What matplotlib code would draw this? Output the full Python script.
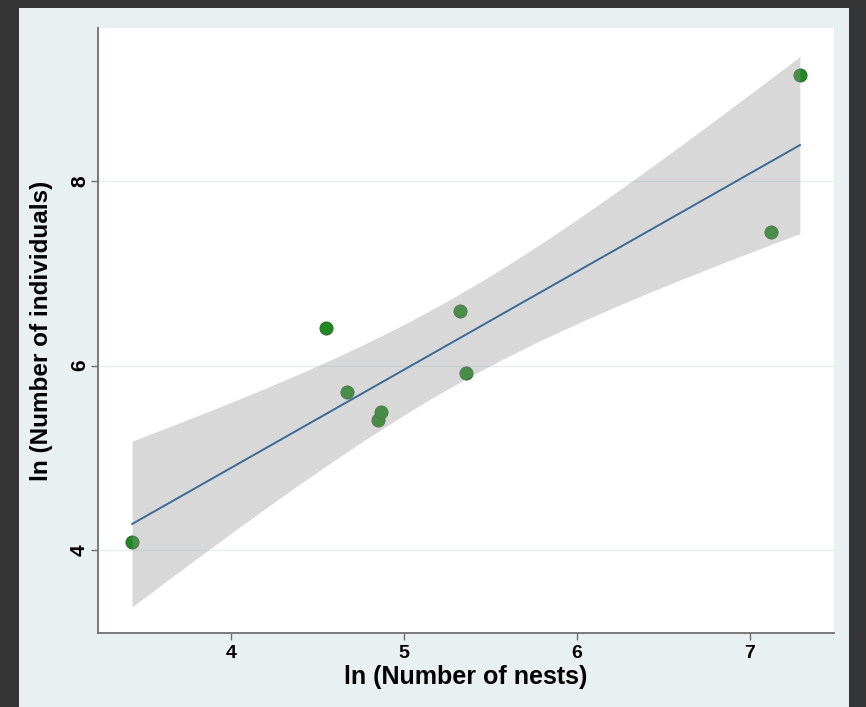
import matplotlib

matplotlib.use("Agg")
import matplotlib.pyplot as plt
import numpy as np
from matplotlib.patches import Rectangle

# ln(number of nests), ln(number of individuals) per site
ln_nests = np.array([3.428, 4.549, 4.671, 4.850, 4.867, 5.324, 5.358, 7.121, 7.289])
ln_individuals = np.array([4.087, 6.405, 5.712, 5.408, 5.495, 6.589, 5.918, 7.445, 9.146])

x_ticks = [4, 5, 6, 7]
y_ticks = [4, 6, 8]

T_CRIT = 2.365  # t(0.975, df=7)


def fit_with_ci(x, y, grid):
    slope, intercept = np.polyfit(x, y, 1)
    resid = y - (slope * x + intercept)
    n = len(x)
    s = np.sqrt(np.sum(resid ** 2) / (n - 2))
    sxx = np.sum((x - x.mean()) ** 2)
    fit = slope * grid + intercept
    half = T_CRIT * s * np.sqrt(1.0 / n + (grid - x.mean()) ** 2 / sxx)
    return fit, fit - half, fit + half


def main() -> None:
    fig = plt.figure(figsize=(8.66, 7.07), dpi=100, facecolor="#353535")
    fig.patches.append(Rectangle((0.022, 0.0), 0.958, 0.989, transform=fig.transFigure,
                                 facecolor="#e8f0f2", edgecolor="none", zorder=-5))

    ax = fig.add_axes([0.1132, 0.1047, 0.8498, 0.8557])
    ax.set_zorder(1)
    ax.set_facecolor("white")

    grid = np.linspace(ln_nests.min(), ln_nests.max(), 200)
    fit, lo, hi = fit_with_ci(ln_nests, ln_individuals, grid)

    # points first, then the semi-transparent CI band on top (mutes points inside it)
    ax.scatter(ln_nests, ln_individuals, s=90, color="#1e8a1e",
               edgecolors="#2f5f2f", linewidths=0.6, zorder=2)
    ax.fill_between(grid, lo, hi, color="#959595", alpha=0.36, linewidth=0, zorder=3)
    ax.plot(grid, fit, color="#3b6a96", linewidth=1.4, zorder=4)

    ax.set_xlim(3.231, 7.486)
    ax.set_ylim(3.10, 9.66)
    ax.set_xticks(x_ticks)
    ax.set_yticks(y_ticks)
    ax.grid(axis="y", color="#e6eff0", linewidth=1.0, zorder=0)
    ax.set_axisbelow(True)

    for side in ("top", "right"):
        ax.spines[side].set_visible(False)
    for side in ("left", "bottom"):
        ax.spines[side].set_color("#707070")
        ax.spines[side].set_linewidth(1.3)
    ax.tick_params(direction="out", length=5, width=1, color="#707070")
    ax.tick_params(axis="y", pad=1.5)

    font = ["Liberation Sans", "DejaVu Sans"]
    for lab in ax.get_xticklabels():
        lab.set_family(font)
        lab.set_fontweight("bold")
        lab.set_fontsize(14)
    for lab in ax.get_yticklabels():
        lab.set_family(font)
        lab.set_fontweight("bold")
        lab.set_fontsize(15)
        lab.set_rotation(90)
        lab.set_verticalalignment("center")

    ax.set_xlabel("ln (Number of nests)", family=font, fontweight="bold", fontsize=18, labelpad=2)
    ax.set_ylabel("ln (Number of individuals)", family=font,
                  fontweight="bold", fontsize=17.5, labelpad=12)

    fig.savefig("out.png", dpi=100, facecolor=fig.get_facecolor())
    plt.close(fig)


if __name__ == "__main__":
    main()
